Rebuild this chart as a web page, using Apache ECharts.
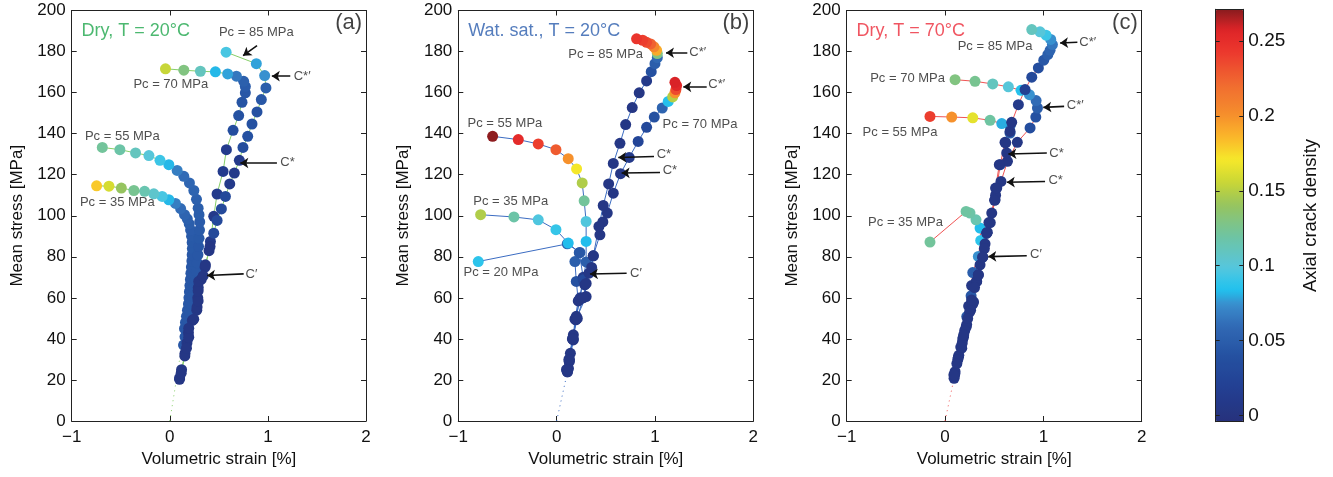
<!DOCTYPE html>
<html>
<head>
<meta charset="utf-8">
<script src="https://cdn.jsdelivr.net/npm/echarts@6/dist/echarts.min.js"></script>
<style>
  html, body { margin: 0; padding: 0; background: #fff; }
  #chart { width: 1333px; height: 477px; }
</style>
</head>
<body>
<div id="chart"></div>
<script>
// ---- data: [volumetric strain %, mean stress MPa, axial crack density] ----
// (a) Dry, T = 20°C
const dry20Pc35 = [[0.15,45,0.045],[0.16,48,0.045],[0.17,51,0.045],[0.18,54,0.045],[0.19,57,0.045],[0.195,60,0.045],[0.2,63,0.045],[0.205,66,0.045],[0.21,69,0.045],[0.215,72,0.045],[0.22,75,0.045],[0.225,78,0.045],[0.228,81,0.045],[0.23,84,0.046],[0.228,87,0.046],[0.222,90,0.047],[0.212,93,0.048],[0.198,96,0.05],[0.178,98.5,0.052],[0.15,100.5,0.055],[0.11,103.5,0.06],[0.058,106,0.068],[-0.01,107.8,0.082],[-0.078,109.4,0.095],[-0.163,110.7,0.105],[-0.257,111.9,0.115],[-0.366,112.3,0.125],[-0.494,113.5,0.14],[-0.62,114.4,0.16],[-0.746,114.6,0.18]];
const dry20Pc55 = [[0.14,37,0.045],[0.155,41,0.045],[0.17,45,0.045],[0.185,49,0.045],[0.2,53,0.045],[0.215,57,0.045],[0.23,61,0.045],[0.245,65,0.045],[0.26,69,0.045],[0.272,73,0.045],[0.28,77,0.045],[0.287,81,0.045],[0.293,85,0.045],[0.298,89,0.046],[0.303,93,0.047],[0.305,97,0.048],[0.298,100.5,0.05],[0.289,103.7,0.05],[0.272,108,0.052],[0.245,112.3,0.055],[0.2,116,0.057],[0.143,119.2,0.06],[0.075,122.1,0.068],[-0.01,124.9,0.082],[-0.1,127,0.092],[-0.213,129.3,0.1],[-0.349,130.6,0.11],[-0.509,132.2,0.118],[-0.688,133.3,0.122]];
const dry20Pc70 = [[0.1,21,0.005],[0.12,25,0.005],[0.155,33,0.005],[0.175,38,0.005],[0.19,43,0.005],[0.23,49,0.005],[0.275,54,0.005],[0.285,60,0.005],[0.29,65,0.005],[0.32,69,0.005],[0.36,75,0.005],[0.4,83,0.005],[0.414,87.5,0.01],[0.448,99.7,0.01],[0.482,110.6,0.012],[0.543,121.6,0.012],[0.577,132.2,0.012],[0.645,141.6,0.035],[0.702,148.8,0.04],[0.736,155.3,0.042],[0.77,159.9,0.045],[0.77,163,0.048],[0.753,165.5,0.052],[0.679,168,0.065],[0.59,169.1,0.078],[0.465,170.1,0.082],[0.312,170.4,0.11],[0.143,170.9,0.13],[-0.044,171.6,0.155]];
const dry20Pc85 = [[0.099,20.3,0.005],[0.116,23.3,0.005],[0.153,31.7,0.005],[0.17,35.5,0.005],[0.193,40.8,0.005],[0.193,45.2,0.005],[0.244,49.6,0.005],[0.278,55.5,0.005],[0.289,58.5,0.005],[0.289,63.4,0.005],[0.295,68,0.005],[0.34,70.7,0.005],[0.363,76.1,0.005],[0.41,85,0.005],[0.448,91.5,0.03],[0.482,97.7,0.03],[0.526,103.3,0.03],[0.567,109.4,0.03],[0.611,115.5,0.01],[0.658,120.8,0.01],[0.709,127,0.01],[0.746,133.3,0.035],[0.794,138.7,0.04],[0.838,144.7,0.04],[0.889,150.6,0.04],[0.933,156.6,0.045],[0.98,162.3,0.05],[0.967,168.3,0.075],[0.882,174.1,0.078],[0.574,179.7,0.095]];

// (b) Water saturated, T = 20°C
const wet20Pc20 = [[0.118,25.7,0.005],[0.128,29.4,0.005],[0.169,39.9,0.005],[0.186,49.6,0.005],[0.22,58.5,0.005],[0.2,68,0.04],[0.186,77.7,0.05],[0.237,82.1,0.052],[0.108,86.3,0.055],[-0.797,77.7,0.088]];
const wet20Pc35 = [[0.11,24,0.005],[0.14,33,0.005],[0.17,42,0.005],[0.2,51,0.005],[0.24,60,0.01],[0.27,70,0.01],[0.23,82,0.045],[0.118,86.7,0.083],[-0.007,93.2,0.09],[-0.187,98,0.097],[-0.434,99.4,0.118],[-0.773,100.5,0.148]];
const wet20Pc55 = [[0.118,25.4,0.005],[0.128,28.9,0.005],[0.169,39.5,0.005],[0.196,49.3,0.005],[0.23,59,0.005],[0.27,68.8,0.03],[0.3,77.5,0.05],[0.3,87.5,0.083],[0.3,97.2,0.098],[0.28,107.3,0.122],[0.26,116,0.148],[0.203,122.8,0.17],[0.118,127.8,0.2],[-0.007,132.2,0.228],[-0.187,135,0.24],[-0.39,137.1,0.252],[-0.651,138.7,0.27]];
const wet20Pc70 = [[0.11,24,0.005],[0.13,30,0.005],[0.165,40,0.005],[0.2,50,0.005],[0.3,60.6,0.005],[0.287,66.3,0.005],[0.356,74.8,0.005],[0.373,80.5,0.005],[0.44,90.7,0.005],[0.47,97,0.005],[0.515,101.3,0.005],[0.576,111,0.005],[0.65,120.5,0.005],[0.738,128.4,0.01],[0.829,136.2,0.025],[0.915,143.1,0.03],[0.993,148.1,0.04],[1.074,152.5,0.055],[1.135,155.7,0.085],[1.18,157.9,0.15],[1.203,159.9,0.2],[1.213,161.5,0.235],[1.22,163.4,0.255],[1.203,165,0.258]];
const wet20Pc85 = [[0.1,25,0.005],[0.125,30,0.005],[0.16,40,0.005],[0.21,50,0.005],[0.27,60,0.005],[0.3,67,0.005],[0.33,72,0.005],[0.373,80.5,0.005],[0.43,94.8,0.005],[0.474,105,0.005],[0.529,115.5,0.005],[0.576,125.5,0.005],[0.644,135.3,0.005],[0.702,144.4,0.005],[0.769,152.7,0.005],[0.84,159.9,0.005],[0.915,165.7,0.01],[0.962,170.2,0.04],[1.0,174.1,0.05],[1.024,177,0.058],[1.024,179,0.13],[1.017,180.6,0.19],[0.99,182.3,0.205],[0.956,183.7,0.225],[0.915,184.5,0.235],[0.875,185.5,0.24],[0.813,186.2,0.245]];

// (c) Dry, T = 70°C
const dry70Pc35 = [[0.092,20.8,0.005],[0.102,24,0.005],[0.136,31.1,0.005],[0.17,35.5,0.005],[0.187,40.8,0.005],[0.214,45.7,0.005],[0.221,50.9,0.045],[0.24,56,0.005],[0.265,61,0.045],[0.27,66,0.005],[0.282,72.3,0.05],[0.339,80.2,0.075],[0.363,88,0.088],[0.356,94,0.083],[0.315,98,0.115],[0.254,101.3,0.118],[0.214,102.1,0.12],[-0.153,87.2,0.122]];
const dry70Pc55 = [[0.1,23,0.005],[0.14,32,0.005],[0.18,40,0.005],[0.22,47,0.005],[0.26,54,0.005],[0.29,58,0.005],[0.32,68,0.005],[0.339,71.2,0.005],[0.383,79.8,0.005],[0.407,86.3,0.005],[0.424,91.5,0.005],[0.46,96.7,0.005],[0.509,107.8,0.005],[0.526,113.5,0.005],[0.561,124.9,0.04],[0.61,135.8,0.005],[0.661,140.3,0.05],[0.661,143.9,0.055],[0.577,144.9,0.08],[0.458,146.5,0.12],[0.282,147.7,0.165],[0.068,148.1,0.2],[-0.153,148.4,0.24]];
const dry70Pc70 = [[0.095,22,0.005],[0.13,30,0.005],[0.175,38,0.005],[0.2,44,0.005],[0.25,53,0.005],[0.282,57,0.005],[0.322,68,0.005],[0.356,76.1,0.005],[0.4,84,0.005],[0.43,92,0.005],[0.475,101.3,0.005],[0.514,110,0.005],[0.569,116.7,0.005],[0.635,126.5,0.005],[0.735,135.8,0.005],[0.865,142.8,0.035],[0.923,148.1,0.04],[0.94,152.5,0.05],[0.926,156.1,0.06],[0.858,159,0.075],[0.773,161.1,0.085],[0.644,162.8,0.1],[0.485,164.2,0.11],[0.305,165.5,0.125],[0.102,166.3,0.13]];
const dry70Pc85 = [[0.09,22.5,0.005],[0.12,28,0.005],[0.16,36,0.005],[0.19,42,0.005],[0.23,50,0.005],[0.27,59,0.005],[0.3,65,0.005],[0.339,71.2,0.005],[0.383,79.8,0.005],[0.424,91.5,0.005],[0.446,96.7,0.005],[0.504,107.5,0.005],[0.514,113.5,0.005],[0.552,124.9,0.005],[0.627,130.6,0.005],[0.617,135.5,0.005],[0.661,141.1,0.005],[0.678,145.5,0.005],[0.746,154.1,0.01],[0.814,161.5,0.02],[0.882,167.5,0.03],[0.949,172,0.035],[1.004,175.8,0.045],[1.045,178.5,0.05],[1.068,180.6,0.055],[1.092,183.4,0.065],[1.075,185.9,0.075],[1.027,188,0.092],[0.966,189.6,0.1],[0.882,190.7,0.11]];

// annotations: [x, y, text, align]
const dry20Notes = [[0.882,189.3,'Pc = 85 MPa','center'],[0.01,163.9,'Pc = 70 MPa','center'],[-0.484,138.5,'Pc = 55 MPa','center'],[-0.535,106.3,'Pc = 35 MPa','center'],[1.263,168,'C*′','left'],[1.126,126,'C*','left'],[0.772,71.2,'C′','left']];
const wet20Notes = [[0.499,178.5,'Pc = 85 MPa','center'],[1.349,179.4,'C*′','left'],[1.542,164,'C*′','left'],[1.458,144.4,'Pc = 70 MPa','center'],[-0.526,144.9,'Pc = 55 MPa','center'],[-0.467,107,'Pc = 35 MPa','center'],[-0.566,72.3,'Pc = 20 MPa','center'],[1.017,129.8,'C*','left'],[1.078,122.1,'C*','left'],[0.746,72,'C′','left']];
const dry70Notes = [[0.509,182.6,'Pc = 85 MPa','center'],[1.366,184.5,'C*′','left'],[-0.381,166.7,'Pc = 70 MPa','center'],[1.238,153.7,'C*′','left'],[-0.458,140.6,'Pc = 55 MPa','center'],[1.061,130.6,'C*','left'],[1.051,117.2,'C*','left'],[-0.402,96.7,'Pc = 35 MPa','center'],[0.865,81,'C′','left']];
// arrows: [fromX, fromY, toX, toY]
const dry20Arrows = [[0.889,182.9,0.747,178],[1.228,168,1.04,168],[1.092,125.7,0.719,125.7],[0.753,71.7,0.38,70.9]];
const wet20Arrows = [[1.329,179.4,1.112,179.4],[1.526,162.8,1.288,162.8],[0.99,128.9,0.627,128.4],[1.051,121.1,0.661,120.8],[0.712,72,0.339,71.6]];
const dry70Arrows = [[1.346,184.5,1.17,184.2],[1.211,153.3,0.999,152.8],[1.035,130.6,0.644,130.1],[1.017,116.7,0.628,116.3],[0.831,80.5,0.44,80.1]];

const panelTitles = ['Dry, T = 20°C', 'Wat. sat., T = 20°C', 'Dry, T = 70°C'];
const panelTags = ['(a)', '(b)', '(c)'];
const xTicks = [-1, 0, 1, 2];
const yTickStep = 20;
const colorTicks = [0, 0.05, 0.1, 0.15, 0.2, 0.25];
const densityRange = [-0.004, 0.271];

// ---- styling ----
const FONT = '"Liberation Sans", Arial, Helvetica, sans-serif';
const AXIS_COLOR = '#222';
const panels = [
  { curves: [dry20Pc35, dry20Pc55, dry20Pc70, dry20Pc85], line: '#86cf68', titleColor: '#1fa64c', notes: dry20Notes, arrows: dry20Arrows, left: 71.7, width: 294.3 },
  { curves: [wet20Pc20, wet20Pc35, wet20Pc55, wet20Pc70, wet20Pc85], line: '#3b6cc2', titleColor: '#2b5cac', notes: wet20Notes, arrows: wet20Arrows, left: 458.3, width: 295 },
  { curves: [dry70Pc35, dry70Pc55, dry70Pc70, dry70Pc85], line: '#f05454', titleColor: '#ec2a3a', notes: dry70Notes, arrows: dry70Arrows, left: 846.7, width: 295 }
];
const PLOT_TOP = 10.5, PLOT_H = 410.5;

// jet-like colormap, sampled into 64 levels
const cmapStops = [[-0.004,'#27307a'],[0.02,'#233f92'],[0.04,'#2450a0'],[0.06,'#3068b4'],[0.075,'#3a8ccc'],[0.085,'#1fc4f0'],[0.1,'#58c6dc'],[0.12,'#6ec4a2'],[0.14,'#96c460'],[0.155,'#c8d636'],[0.17,'#f6e82a'],[0.185,'#fbb62a'],[0.2,'#f58e2c'],[0.22,'#f06a30'],[0.24,'#ec3a2e'],[0.255,'#e02428'],[0.271,'#7a1a1c']];
function hex(c) { return [1,3,5].map(i => parseInt(c.slice(i, i + 2), 16)); }
function sampleColor(v) {
  for (let i = 1; i < cmapStops.length; i++) {
    const [v0, c0] = cmapStops[i - 1], [v1, c1] = cmapStops[i];
    if (v <= v1) {
      const t = Math.max(0, (v - v0) / (v1 - v0));
      const a = hex(c0), b = hex(c1);
      return 'rgb(' + a.map((x, k) => Math.round(x + (b[k] - x) * t)).join(',') + ')';
    }
  }
  return cmapStops[cmapStops.length - 1][1];
}
const jet = [];
for (let i = 0; i < 64; i++) jet.push(sampleColor(densityRange[0] + (i + 0.5) / 64 * (densityRange[1] - densityRange[0])));

// tick labels use a true minus sign
const fmtTick = v => String(v).replace('-', '\u2212');

// ---- build option ----
const grids = [], xAxes = [], yAxes = [], series = [], pointSeries = [];
const tickStyle = { inside: true, length: 5, lineStyle: { color: AXIS_COLOR, width: 1 } };
const lineStyleAxis = { show: true, onZero: false, lineStyle: { color: AXIS_COLOR, width: 1 } };

panels.forEach((p, i) => {
  grids.push({ left: p.left, top: PLOT_TOP, width: p.width, height: PLOT_H, outerBoundsMode: 'none' });
  xAxes.push({
    gridIndex: i, type: 'value', min: xTicks[0], max: xTicks[xTicks.length - 1], interval: 1, position: 'bottom',
    axisLine: lineStyleAxis, axisTick: tickStyle, splitLine: { show: false },
    axisLabel: { fontSize: 17, color: '#111', fontFamily: FONT, margin: 8, showMinLabel: true, showMaxLabel: true, formatter: fmtTick },
    name: 'Volumetric strain [%]', nameLocation: 'middle', nameGap: 30,
    nameTextStyle: { fontSize: 17, color: '#111', fontFamily: FONT }
  });
  xAxes.push({
    gridIndex: i, type: 'value', min: xTicks[0], max: xTicks[xTicks.length - 1], interval: 1, position: 'top',
    axisLine: lineStyleAxis, axisTick: tickStyle, splitLine: { show: false }, axisLabel: { show: false }
  });
  yAxes.push({
    gridIndex: i, type: 'value', min: 0, max: 200, interval: yTickStep, position: 'left',
    axisLine: lineStyleAxis, axisTick: tickStyle, splitLine: { show: false },
    axisLabel: { fontSize: 17, color: '#111', fontFamily: FONT, margin: 6, showMinLabel: true, showMaxLabel: true },
    name: 'Mean stress [MPa]', nameLocation: 'middle', nameGap: 46,
    nameTextStyle: { fontSize: 17, color: '#111', fontFamily: FONT }
  });
  yAxes.push({
    gridIndex: i, type: 'value', min: 0, max: 200, interval: yTickStep, position: 'right',
    axisLine: lineStyleAxis, axisTick: tickStyle, splitLine: { show: false }, axisLabel: { show: false }
  });
  const xi = 2 * i, yi = 2 * i;

  // dotted segment from the origin to the first recorded point
  const first = p.curves[0][0];
  series.push({
    type: 'line', xAxisIndex: xi, yAxisIndex: yi, data: [[0, 0], [first[0], first[1]]],
    symbol: 'none', lineStyle: { color: p.line, width: 1, type: [1, 4] }, silent: true, z: 1
  });
  // connecting lines
  p.curves.forEach(c => series.push({
    type: 'line', xAxisIndex: xi, yAxisIndex: yi, data: c.map(d => [d[0], d[1]]),
    symbol: 'none', lineStyle: { color: p.line, width: 1 }, silent: true, z: 2
  }));
  // points coloured by crack density
  p.curves.forEach(c => {
    pointSeries.push(series.length);
    series.push({
      type: 'scatter', xAxisIndex: xi, yAxisIndex: yi, data: c, symbolSize: 11,
      itemStyle: { opacity: 1 }, silent: true, z: 3
    });
  });
  // arrows
  series.push({
    type: 'lines', coordinateSystem: 'cartesian2d', xAxisIndex: xi, yAxisIndex: yi,
    data: p.arrows.map(a => ({ coords: [[a[0], a[1]], [a[2], a[3]]] })),
    symbol: ['none', 'arrow'], symbolSize: [0, 8],
    lineStyle: { color: '#111', width: 1.6, opacity: 1 }, silent: true, z: 5
  });
  // text annotations
  series.push({
    type: 'scatter', xAxisIndex: xi, yAxisIndex: yi, symbolSize: 1,
    itemStyle: { color: 'rgba(0,0,0,0)' }, silent: true, z: 6,
    data: p.notes.map(n => ({
      value: [n[0], n[1]],
      label: { show: true, position: 'inside', formatter: n[2], align: n[3], verticalAlign: 'middle',
               fontSize: 13, color: '#222', fontFamily: FONT }
    }))
  });
  // panel title and tag
  series.push({
    type: 'scatter', xAxisIndex: xi, yAxisIndex: yi, symbolSize: 1,
    itemStyle: { color: 'rgba(0,0,0,0)' }, silent: true, z: 6,
    data: [
      { value: [-0.9, 190], label: { show: true, position: 'inside', formatter: panelTitles[i], align: 'left', verticalAlign: 'middle', fontSize: 18, color: p.titleColor, fontFamily: FONT } },
      { value: [1.96, 194], label: { show: true, position: 'inside', formatter: panelTags[i], align: 'right', verticalAlign: 'middle', fontSize: 22, color: '#111', fontFamily: FONT } }
    ]
  });
});

// colour bar frame and ticks
const CB = { left: 1215.7, top: 9.3, width: 27.6, height: 412.4 };
grids.push({ left: CB.left, top: CB.top, width: CB.width, height: CB.height, outerBoundsMode: 'none' });
const cbTick = { inside: true, length: 4, customValues: colorTicks, lineStyle: { color: AXIS_COLOR, width: 1 } };
xAxes.push({ gridIndex: 3, type: 'value', min: 0, max: 1, position: 'bottom', z: 10, axisLine: lineStyleAxis, axisTick: { show: false }, axisLabel: { show: false }, splitLine: { show: false } });
xAxes.push({ gridIndex: 3, type: 'value', min: 0, max: 1, position: 'top', z: 10, axisLine: lineStyleAxis, axisTick: { show: false }, axisLabel: { show: false }, splitLine: { show: false } });
yAxes.push({ gridIndex: 3, type: 'value', min: densityRange[0], max: densityRange[1], position: 'left', z: 10, axisLine: lineStyleAxis, axisTick: cbTick, axisLabel: { show: false }, splitLine: { show: false } });
yAxes.push({
  gridIndex: 3, type: 'value', min: densityRange[0], max: densityRange[1], position: 'right', z: 10,
  axisLine: lineStyleAxis, axisTick: cbTick, splitLine: { show: false },
  axisLabel: { customValues: colorTicks, formatter: v => String(v), fontSize: 19, color: '#111', fontFamily: FONT, margin: 5 },
  name: 'Axial crack density', nameLocation: 'middle', nameGap: 58, nameRotate: 90,
  nameTextStyle: { fontSize: 18.5, color: '#111', fontFamily: FONT }
});

const option = {
  animation: false,
  backgroundColor: '#fff',
  grid: grids,
  xAxis: xAxes,
  yAxis: yAxes,
  visualMap: {
    type: 'continuous', seriesIndex: pointSeries, dimension: 2,
    min: densityRange[0], max: densityRange[1], inRange: { color: jet },
    show: true, calculable: false, hoverLink: false, orient: 'vertical',
    left: CB.left, top: CB.top, itemWidth: CB.width, itemHeight: CB.height,
    padding: 0, text: null, z: 4
  },
  series: series
};

const chart = echarts.init(document.getElementById('chart'), null, { renderer: 'canvas' });
chart.setOption(option);
</script>
</body>
</html>
